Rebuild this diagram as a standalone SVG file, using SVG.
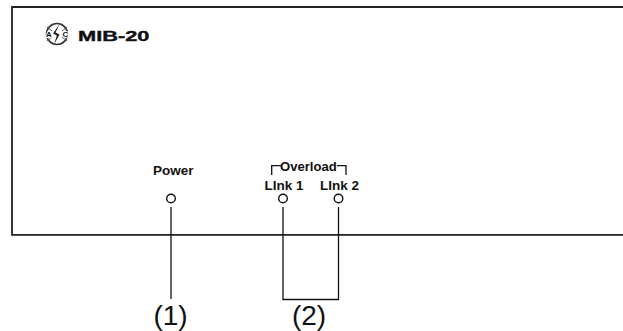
<svg xmlns="http://www.w3.org/2000/svg" width="623" height="331" viewBox="0 0 623 331">
<style>
.t{font-family:"Liberation Sans",Arial,sans-serif;fill:#111}
.b{font-weight:bold;font-size:13.500px}
.n{font-size:28px;text-anchor:middle}
.l{fill:none;stroke:#111;stroke-width:1.3}
.led{fill:#fff;stroke:#111;stroke-width:1.4}
</style>
<rect width="623" height="331" fill="#fff"/>
<g id="panel"><path d="M623 7H12V234.800H623" fill="none" stroke="#222" stroke-width="1.800"/></g>
<g id="logo">
<circle cx="57" cy="34" r="10.500" fill="none" stroke="#333" stroke-width="1.600"/>
<path d="M60 23.500L55.500 32.500L59.500 34.500L54 44.500L56.800 35.500L53 33.500Z" fill="#222"/>
<path d="M47 27L52 31M67 27L62 31M47 41L52 37M67 41L62 37" stroke="#555" stroke-width="1" fill="none"/>
<text class="t" x="49" y="37" font-size="8" font-weight="bold" text-anchor="middle" stroke="#fff" stroke-width="2" paint-order="stroke">A</text>
<text class="t" x="65.500" y="37" font-size="8" font-weight="bold" text-anchor="middle" stroke="#fff" stroke-width="2" paint-order="stroke">C</text>
<text class="t" x="78" y="41" font-size="15.500" font-weight="bold" textLength="71.500" lengthAdjust="spacingAndGlyphs" stroke="#111" stroke-width="0.400">MIB-20</text>
</g>
<g id="power"><text class="t b" x="153" y="175">Power</text><circle class="led" cx="171" cy="198.500" r="4.300"/></g>
<g id="overload"><text class="t b" x="280" y="171" style="font-size:13.100px">Overload</text><path class="l" d="M271.700 175V165.700H281M337 165.700H346V175"/></g>
<g id="link1"><text class="t b" x="264.500" y="190">LInk 1</text><circle class="led" cx="283" cy="198.500" r="4.300"/></g>
<g id="link2"><text class="t b" x="320" y="190">LInk 2</text><circle class="led" cx="338.500" cy="198.500" r="4.300"/></g>
<g id="connectors">
<path class="l" d="M171 207V299"/>
<path class="l" d="M283 207V299.500H338.500V207"/>
</g>
<g id="labels">
<text class="t n" x="170.500" y="324.500">(1)</text>
<text class="t n" x="309" y="324.500">(2)</text>
</g>
</svg>
